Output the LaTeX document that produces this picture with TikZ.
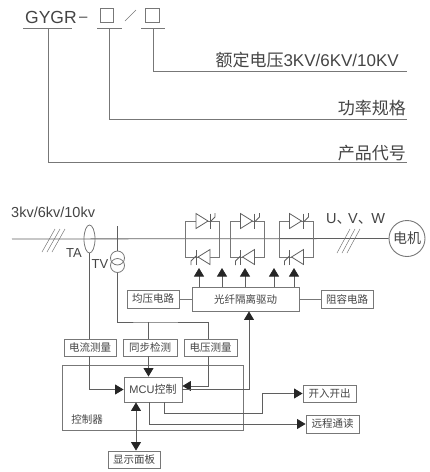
\documentclass[tikz,border=0pt]{standalone}
\usepackage{fontspec}
\setmainfont{Liberation Sans}
\newfontfamily\cjk{Noto Sans CJK SC}
\usetikzlibrary{arrows.meta,shapes.geometric}
\definecolor{ln}{HTML}{777777}
\definecolor{tx}{HTML}{444444}
\tikzset{
 every node/.style={text=tx,inner sep=0pt},
 ln/.style={draw=ln,line width=0.8pt},
 lnt/.style={draw=ln,line width=1pt},
 dk/.style={draw=ln!80!black,line width=0.8pt},
 arr/.style={dk,-{Triangle[length=8.5pt,width=10pt,color=black!85]}},
 darr/.style={dk,{Triangle[length=8.5pt,width=10pt,color=black!85]}-{Triangle[length=8.5pt,width=10pt,color=black!85]}},
 bx/.style={draw=ln,line width=0.9pt,fill=white,font=\cjk\fontsize{10.5}{12}\selectfont},
 big/.style={font=\fontsize{17.5}{20}\selectfont},
 lab/.style={font=\cjk\fontsize{17}{19}\selectfont,anchor=east},
 thy/.pic={
  \draw[dk,fill=white] (-7,-7.5) -- (-7,7.5) -- (5,0) -- cycle;
  \draw[dk] (7,-7.5) -- (7,7.5);
  \draw[dk] (7,1) -- (12,-4) -- (12,-8);
 },
}
\begin{document}
\begin{tikzpicture}[x=1pt,y=-1pt]
\useasboundingbox (0,0) rectangle (430,472);
% type code
\node[big,anchor=west] (gygr) at (25,17) {GYGR};
\node[anchor=west,font=\fontsize{15}{17}\selectfont] (dash) at (79,19.5) {–};
\node[draw=ln,line width=.7pt,minimum width=13.5pt,minimum height=13.5pt] (b1) at (107,15.5) {};
\node[draw=ln,line width=.7pt,minimum width=13.5pt,minimum height=13.5pt] (b2) at (152.5,15.5) {};
\coordinate (s1) at (125,21); \coordinate (s2) at (136,10);
\draw[ln,line width=.5pt] (s1) -- (s2);
\coordinate (u1a) at (23,28.5); \coordinate (u1b) at (72,28.5);
\coordinate (u2a) at (97,28.5); \coordinate (u2b) at (122,28.5);
\coordinate (u3a) at (141,28.5); \coordinate (u3b) at (165,28.5);
\draw[lnt] (u1a) -- (u1b); \draw[lnt] (u2a) -- (u2b); \draw[lnt] (u3a) -- (u3b);
\coordinate (e1) at (407,71.5); \coordinate (e2) at (407,119); \coordinate (e3) at (407,162.5);
\draw[lnt] (153,28.5) |- (e1);
\draw[lnt] (109,28.5) |- (e2);
\draw[lnt] (48,28.5) |- (e3);
\node[lab] (t1) at (399,60) {额定电压\fontspec{Liberation Sans}3KV/6KV/10KV};
\node[lab] (t2) at (406,108) {功率规格};
\node[lab] (t3) at (406,153) {产品代号};
% bus
\node[anchor=west,font=\fontsize{14.5}{16}\selectfont] (volt) at (11,212) {3kv/6kv/10kv};
\node[draw=ln,line width=.9pt,circle,minimum size=36pt,font=\cjk\fontsize{14}{16}\selectfont] (motor) at (407,238.5) {电机};
\coordinate (busl) at (12,239);
\draw[dk] (busl) -- (motor.west);
\foreach \dx in {0,5,10}{
 \draw[ln,line width=.5pt] (42+\dx,252) -- (55+\dx,229);
 \draw[ln,line width=.5pt] (337+\dx,253) -- (350+\dx,229);
}
\node[font=\fontsize{13}{15}\selectfont] (ta) at (74,253) {TA};
\node[font=\fontsize{13}{15}\selectfont] (tv) at (100,264) {TV};
\node[anchor=west,font=\fontsize{14.5}{16}\selectfont] (uvw) at (326,219) {U{\cjk 、}\kern-3pt V{\cjk 、}\kern-1pt W};
\node[draw=ln,line width=.8pt,ellipse,minimum width=11pt,minimum height=28pt,fill=none] (taE) at (89.5,239) {};
% thyristor bridges
\foreach \xa/\xb/\n in {185.5/219.5/a,230/264/b,279/313/c}{
 \draw[lnt] (\xa,221) rectangle (\xb,257);
 \pic at ({\xa+17.5},221) {thy};
 \pic[rotate=180] at ({\xa+17.5},257) {thy};
}
% boxes
\node[bx,minimum width=107pt,minimum height=24pt] (drv) at (245.5,299) {光纤隔离驱动};
\node[bx,minimum width=52pt,minimum height=18pt] (jy) at (153,299) {均压电路};
\node[bx,minimum width=52pt,minimum height=18pt] (zr) at (347,299) {阻容电路};
\node[bx,minimum width=52pt,minimum height=17pt] (dl) at (90,347.5) {电流测量};
\node[bx,minimum width=54pt,minimum height=17pt] (tb) at (150,347.5) {同步检测};
\node[bx,minimum width=53pt,minimum height=17pt] (dy) at (210.5,347.5) {电压测量};
\node[draw=ln,line width=.9pt,minimum width=181pt,minimum height=65pt] (ctl) at (152.5,397.5) {};
\node[font=\cjk\fontsize{10.5}{12}\selectfont] (ctltx) at (87,419) {控制器};
\node[bx,font=\fontsize{11}{12}\selectfont,minimum width=58pt,minimum height=25pt] (mcu) at (153,389.5) {MCU{\cjk 控制}};
\node[bx,minimum width=52pt,minimum height=17pt] (xs) at (134,459.5) {显示面板};
\node[bx,minimum width=53pt,minimum height=17pt] (kr) at (329.5,393.5) {开入开出};
\node[bx,minimum width=53pt,minimum height=18pt] (yc) at (332.5,424) {远程通读};
% connectors
\draw[lnt] (jy) -- (drv);
\draw[lnt] (drv) -- (zr);
\foreach \x in {199,222,245,274,294}{
 \draw[arr] (\x,287) -- (\x,268);
}
\draw[dk] (89,253) -- (dl.north -| 89,0);
\draw[arr] (dl.south -| 89,0) |- (mcu.west);
\coordinate (tvtop) at (117.5,226);
\node[draw=ln,line width=.8pt,circle,minimum size=14pt] (tv1) at (117.5,258) {};
\node[draw=ln,line width=.8pt,circle,minimum size=14pt] (tv2) at (117.5,265.5) {};
\draw[dk] (tvtop) -- (tv1.north);
\coordinate (j) at (148.5,322);
\draw[dk] (tv2.south) |- (j) -| (dy.north -| 208,0);
\draw[dk] (j) -- (j |- tb.north);
\draw[arr] (tb.south -| 148.5,0) -- (mcu.north -| 148.5,0);
\draw[arr] (dy.south -| 208,0) |- (mcu.east |- 0,386);
\draw[arr] (mcu.east |- 0,389.5) -| (drv.south -| 249,0);
\draw[darr] (mcu.south -| 136,0) -- (xs.north -| 136,0);
\coordinate (k1) at (164,413);
\coordinate (k2) at (262,413);
\draw[arr] (mcu.south -| 164,0) -- (k1) -- (k2) |- (kr.west);
\draw[arr] (mcu.south -| 149,0) |- (yc.west);
\end{tikzpicture}
\end{document}
